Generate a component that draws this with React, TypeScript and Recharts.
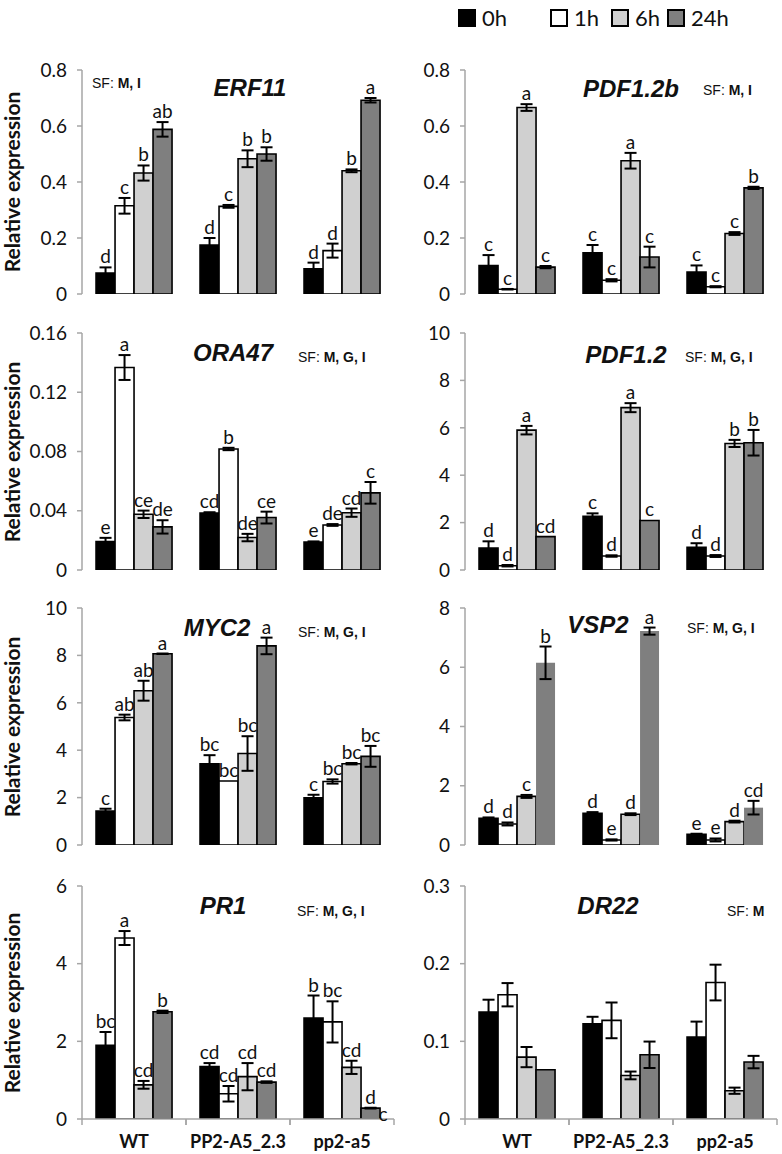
import React from 'react';
import { BarChart, Bar, XAxis, YAxis, ErrorBar, LabelList } from 'recharts';

// categories and series
const genotypes = ['WT', 'PP2-A5_2.3', 'pp2-a5'];
const timeKeys = ['h0', 'h1', 'h6', 'h24'];
const timeNames = ['0h', '1h', '6h', '24h'];
const timeFills = ['#000000', '#ffffff', '#d0d0d0', '#7f7f7f'];

// values: [time][genotype]
const erf11Mean = [[0.075, 0.175, 0.09], [0.315, 0.313, 0.155], [0.432, 0.483, 0.44], [0.588, 0.5, 0.692]];
const erf11Err = [[0.02, 0.025, 0.022], [0.028, 0.005, 0.025], [0.027, 0.03, 0.005], [0.026, 0.024, 0.008]];
const erf11Letters = [['d', 'd', 'd'], ['c', 'c', 'd'], ['b', 'b', 'b'], ['ab', 'b', 'a']];

const pdf12bMean = [[0.102, 0.147, 0.078], [0.017, 0.049, 0.026], [0.666, 0.476, 0.216], [0.096, 0.132, 0.379]];
const pdf12bErr = [[0.037, 0.028, 0.024], [0.001, 0.004, 0.002], [0.012, 0.028, 0.005], [0.004, 0.037, 0.004]];
const pdf12bLetters = [['c', 'c', 'c'], ['c', 'c', 'c'], ['a', 'a', 'c'], ['c', 'c', 'b']];

const ora47Mean = [[0.0192, 0.0385, 0.0188], [0.1367, 0.0817, 0.0304], [0.0376, 0.0219, 0.0387], [0.0291, 0.0354, 0.0521]];
const ora47Err = [[0.0025, 0.0005, 0.0005], [0.0084, 0.0008, 0.0006], [0.0025, 0.0025, 0.0028], [0.0045, 0.004, 0.0073]];
const ora47Letters = [['e', 'cd', 'e'], ['a', 'b', 'de'], ['ce', 'de', 'cd'], ['de', 'ce', 'c']];

const pdf12Mean = [[0.93, 2.27, 0.96], [0.18, 0.59, 0.59], [5.9, 6.85, 5.34], [1.41, 2.09, 5.37]];
const pdf12Err = [[0.28, 0.12, 0.17], [0.03, 0.03, 0.04], [0.18, 0.19, 0.15], [0, 0, 0.54]];
const pdf12Letters = [['d', 'c', 'd'], ['d', 'd', 'd'], ['a', 'a', 'b'], ['cd', 'c', 'b']];

const myc2Mean = [[1.43, 3.43, 1.99], [5.38, 2.7, 2.68], [6.51, 3.86, 3.43], [8.07, 8.4, 3.74]];
const myc2Err = [[0.1, 0.36, 0.13], [0.12, 0, 0.09], [0.42, 0.73, 0.03], [0.01, 0.35, 0.44]];
const myc2Letters = [['c', 'bc', 'c'], ['ab', 'bc', 'bc'], ['ab', 'bc', 'bc'], ['a', 'a', 'bc']];

const vsp2Mean = [[0.9, 1.07, 0.36], [0.71, 0.17, 0.17], [1.64, 1.04, 0.79], [6.15, 7.22, 1.26]];
const vsp2Err = [[0.03, 0.04, 0.02], [0.05, 0.02, 0.05], [0.05, 0.03, 0.03], [0.55, 0.12, 0.23]];
const vsp2Letters = [['d', 'd', 'e'], ['d', 'e', 'e'], ['c', 'd', 'd'], ['b', 'a', 'cd']];

const pr1Mean = [[1.9, 1.35, 2.6], [4.66, 0.65, 2.5], [0.88, 1.09, 1.33], [2.76, 0.95, 0.28]];
const pr1Err = [[0.34, 0.09, 0.58], [0.18, 0.2, 0.53], [0.1, 0.35, 0.17], [0.03, 0.02, 0.01]];
const pr1Letters = [['bc', 'cd', 'b'], ['a', 'cd', 'bc'], ['cd', 'cd', 'cd'], ['b', 'cd', 'd|c']];

const dr22Mean = [[0.1376, 0.1226, 0.1054], [0.16, 0.127, 0.1757], [0.0797, 0.0561, 0.0364], [0.0634, 0.0827, 0.0733]];
const dr22Err = [[0.016, 0.009, 0.02], [0.015, 0.023, 0.023], [0.013, 0.005, 0.004], [0, 0.017, 0.008]];

const FRAME = '#a6a6a6';
const INK = '#111';
const SANS = 'Lato, "Open Sans", sans-serif';
const ARIAL = '"Liberation Sans", Arial, sans-serif';

// layout
const colLeft = [0, 400];
const colWidth = [400, 382];
const yAxisW = [82, 65];
const marginRight = [6, 5];
const rowTop = [58, 320, 595, 873];
const marginTop = [12, 13, 13, 13];
const plotH = [224, 237, 237, 233];

type Panel = {
  gene: string;
  sfPlain: string;
  sfBold: string;
  col: number;
  row: number;
  max: number;
  ticks: number[];
  mean: number[][];
  err: number[][];
  letters?: string[][];
  titleX: number;
  titleY: number;
  sfX: number;
  sfY: number;
  plain24?: boolean;
};

const panels: Panel[] = [
  { gene: 'ERF11', sfPlain: 'SF: ', sfBold: 'M, I', col: 0, row: 0, max: 0.8, ticks: [0, 0.2, 0.4, 0.6, 0.8],
    mean: erf11Mean, err: erf11Err, letters: erf11Letters, titleX: 250, titleY: 88, sfX: 92, sfY: 83 },
  { gene: 'PDF1.2b', sfPlain: 'SF: ', sfBold: 'M, I', col: 1, row: 0, max: 0.8, ticks: [0, 0.2, 0.4, 0.6, 0.8],
    mean: pdf12bMean, err: pdf12bErr, letters: pdf12bLetters, titleX: 631, titleY: 89, sfX: 703, sfY: 90 },
  { gene: 'ORA47', sfPlain: 'SF: ', sfBold: 'M, G, I', col: 0, row: 1, max: 0.16, ticks: [0, 0.04, 0.08, 0.12, 0.16],
    mean: ora47Mean, err: ora47Err, letters: ora47Letters, titleX: 233, titleY: 353, sfX: 298, sfY: 357 },
  { gene: 'PDF1.2', sfPlain: 'SF: ', sfBold: 'M, G, I', col: 1, row: 1, max: 10, ticks: [0, 2, 4, 6, 8, 10],
    mean: pdf12Mean, err: pdf12Err, letters: pdf12Letters, titleX: 626, titleY: 355, sfX: 685, sfY: 357 },
  { gene: 'MYC2', sfPlain: 'SF: ', sfBold: 'M, G, I', col: 0, row: 2, max: 10, ticks: [0, 2, 4, 6, 8, 10],
    mean: myc2Mean, err: myc2Err, letters: myc2Letters, titleX: 217, titleY: 628, sfX: 298, sfY: 632 },
  { gene: 'VSP2', sfPlain: 'SF: ', sfBold: 'M, G, I', col: 1, row: 2, max: 8, ticks: [0, 2, 4, 6, 8],
    mean: vsp2Mean, err: vsp2Err, letters: vsp2Letters, titleX: 598, titleY: 625, sfX: 687, sfY: 628, plain24: true },
  { gene: 'PR1', sfPlain: 'SF: ', sfBold: 'M, G, I', col: 0, row: 3, max: 6, ticks: [0, 2, 4, 6],
    mean: pr1Mean, err: pr1Err, letters: pr1Letters, titleX: 223, titleY: 906, sfX: 297, sfY: 911 },
  { gene: 'DR22', sfPlain: 'SF: ', sfBold: 'M', col: 1, row: 3, max: 0.3, ticks: [0, 0.1, 0.2, 0.3],
    mean: dr22Mean, err: dr22Err, titleX: 608, titleY: 906, sfX: 727, sfY: 911 },
];

function buildRows(p: Panel) {
  return genotypes.map((g, gi) => {
    const row: any = { name: g };
    timeKeys.forEach((k, ti) => {
      row[k] = p.mean[ti][gi];
      row[k + 'e'] = p.err[ti][gi];
      row[k + 'l'] = p.letters ? p.letters[ti][gi] : '';
    });
    return row;
  });
}

const letterLabel = (rows: any[], key: string) => (props: any) => {
  const row = rows[props.index];
  if (!row) return null;
  const txt: string = row[key + 'l'];
  if (!txt) return null;
  const vb = props.viewBox || {};
  const x = props.x ?? vb.x;
  const y = props.y ?? vb.y;
  const w = props.width ?? vb.width;
  const h = props.height ?? vb.height;
  const v = row[key];
  const e = row[key + 'e'];
  const errPx = v > 0 ? (e / v) * h : 0;
  const parts = txt.split('|');
  return (
    <g>
      <text x={x + w / 2} y={y - errPx - 4} textAnchor="middle" fontSize={19} fontFamily={SANS} fill={INK}>
        {parts[0]}
      </text>
      {parts[1] ? (
        <text x={x + w + 3} y={y + h + 2} textAnchor="middle" fontSize={19} fontFamily={SANS} fill={INK}>
          {parts[1]}
        </text>
      ) : null}
    </g>
  );
};

const BottomTick = (props: any) => {
  const { x, y, payload } = props;
  const half = payload && payload.offset ? payload.offset : 52;
  return (
    <g>
      <line x1={x - half} x2={x - half} y1={y} y2={y + 6} stroke={FRAME} strokeWidth={1.5} />
      <line x1={x + half} x2={x + half} y1={y} y2={y + 6} stroke={FRAME} strokeWidth={1.5} />
      <text x={x} y={y + 29} textAnchor="middle" fontSize={18} fontWeight="bold" fontFamily={SANS} fill={INK}>
        {payload.value}
      </text>
    </g>
  );
};

function GenePanel({ p }: { p: Panel }) {
  const rows = buildRows(p);
  const last = p.row === 3;
  const xH = last ? 35 : 0;
  const mb = last ? 0 : 12;
  const height = marginTop[p.row] + plotH[p.row] + xH + mb;
  return (
    <div style={{ position: 'absolute', left: colLeft[p.col], top: rowTop[p.row] }}>
      <BarChart
        width={colWidth[p.col]}
        height={height}
        data={rows}
        margin={{ top: marginTop[p.row], right: marginRight[p.col], bottom: mb, left: 0 }}
        barCategoryGap="13.5%"
        barGap={0}
      >
        <XAxis xAxisId="top" orientation="top" dataKey="name" height={0} tick={false} tickLine={false}
          axisLine={{ stroke: FRAME, strokeWidth: 1.5 }} />
        <YAxis yAxisId="right" orientation="right" width={0} tick={false} tickLine={false}
          axisLine={{ stroke: FRAME, strokeWidth: 1.5 }} />
        <XAxis
          dataKey="name"
          height={xH}
          tickLine={false}
          tickSize={0}
          tickMargin={0}
          tick={last ? <BottomTick /> : false}
          axisLine={{ stroke: FRAME, strokeWidth: 1.5 }}
          interval={0}
        />
        <YAxis
          domain={[0, p.max]}
          ticks={p.ticks}
          width={yAxisW[p.col]}
          tickSize={5}
          tickMargin={10}
          allowDataOverflow
          axisLine={{ stroke: FRAME, strokeWidth: 1.5 }}
          tickLine={{ stroke: FRAME, strokeWidth: 1.5 }}
          tick={{ fontSize: 19, fill: INK, fontFamily: SANS }}
          tickFormatter={(v: number) => String(v)}
        />
        {timeKeys.map((k, ti) => (
          <Bar
            key={k}
            dataKey={k}
            name={timeNames[ti]}
            fill={timeFills[ti]}
            stroke={ti === 3 && p.plain24 ? 'none' : '#000'}
            strokeWidth={1.6}
            isAnimationActive={false}
          >
            <ErrorBar dataKey={k + 'e'} width={6} stroke="#000" strokeWidth={2} isAnimationActive={false} />
            {p.letters ? <LabelList dataKey={k + 'l'} content={letterLabel(rows, k)} /> : null}
          </Bar>
        ))}
      </BarChart>
      <div
        style={{
          position: 'absolute',
          left: p.titleX - colLeft[p.col],
          top: p.titleY - rowTop[p.row],
          transform: 'translate(-50%, -50%)',
          fontFamily: ARIAL,
          fontWeight: 'bold',
          fontStyle: 'italic',
          fontSize: 24,
          color: INK,
          whiteSpace: 'nowrap',
          lineHeight: 1,
        }}
      >
        {p.gene}
      </div>
      <div
        style={{
          position: 'absolute',
          left: p.sfX - colLeft[p.col],
          top: p.sfY - rowTop[p.row],
          transform: 'translateY(-50%)',
          fontFamily: ARIAL,
          fontSize: 14,
          color: INK,
          whiteSpace: 'nowrap',
          lineHeight: 1,
        }}
      >
        {p.sfPlain}
        <b>{p.sfBold}</b>
      </div>
    </div>
  );
}

const legendLeft = [458, 550, 611, 667];

export default function App() {
  return (
    <div style={{ position: 'absolute', left: 0, top: 0, width: 782, height: 1154, background: '#fff', overflow: 'hidden' }}>
      {timeNames.map((t, i) => (
        <div key={t} style={{ position: 'absolute', left: legendLeft[i], top: 8, display: 'flex', alignItems: 'center' }}>
          <div style={{ width: 14, height: 14, background: timeFills[i], border: '2px solid #000' }} />
          <span style={{ marginLeft: 6, fontFamily: SANS, fontSize: 22, color: INK, lineHeight: '20px' }}>{t}</span>
        </div>
      ))}
      {[0, 1, 2, 3].map((r) => (
        <div
          key={r}
          style={{
            position: 'absolute',
            left: 11,
            top: rowTop[r] + marginTop[r] + plotH[r] / 2,
            transform: 'translate(-50%, -50%) rotate(-90deg)',
            fontFamily: SANS,
            fontWeight: 'bold',
            fontSize: 21,
            color: INK,
            whiteSpace: 'nowrap',
          }}
        >
          Relative expression
        </div>
      ))}
      {panels.map((p) => (
        <GenePanel key={p.gene} p={p} />
      ))}
    </div>
  );
}
